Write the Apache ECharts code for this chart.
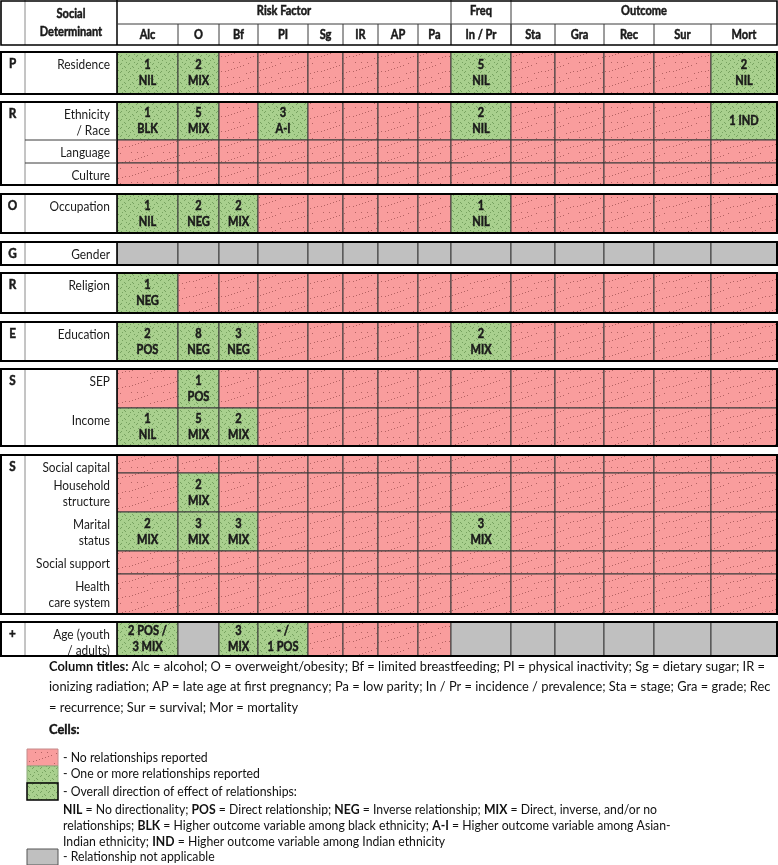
<!DOCTYPE html>
<html><head><meta charset="utf-8">
<script src="https://cdn.jsdelivr.net/npm/echarts@6/dist/echarts.min.js"></script>
<style>html,body{margin:0;padding:0;background:#fff}#c{width:778px;height:865px}</style>
</head><body><div id="c"></div>
<script>
// ---------------- DATA ----------------
const columnNames = ['Alc','O','Bf','PI','Sg','IR','AP','Pa','In / Pr','Sta','Gra','Rec','Sur','Mort'];
const columnGroupNames = ['Risk Factor','Freq','Outcome'];
const columnGroupSpans = [[0,7],[8,8],[9,13]];
const groupLetters = ['P','R','O','G','R','E','S','S','+'];
const groupSizes = [1,3,1,1,1,1,2,5,1];
const determinants = ['Residence','Ethnicity\n/ Race','Language','Culture','Occupation','Gender','Religion','Education','SEP','Income','Social capital','Household\nstructure','Marital\nstatus','Social support','Health\ncare system','Age (youth\n/ adults)'];
// R = no relationship reported, G = one or more relationships, X = not applicable
const cellStatus = [
  'GGRRRRRRGRRRRG',
  'GGRGRRRRGRRRRG',
  'RRRRRRRRRRRRRR',
  'RRRRRRRRRRRRRR',
  'GGGRRRRRGRRRRR',
  'XXXXXXXXXXXXXX',
  'GRRRRRRRRRRRRR',
  'GGGRRRRRGRRRRR',
  'RGRRRRRRRRRRRR',
  'GGGRRRRRRRRRRR',
  'RRRRRRRRRRRRRR',
  'RGRRRRRRRRRRRR',
  'GGGRRRRRGRRRRR',
  'RRRRRRRRRRRRRR',
  'RRRRRRRRRRRRRR',
  'GXGGRRRRXXXXXX'
];
// [row, column, label]
const cellLabels = [
  [0,0,'1\nNIL'],[0,1,'2\nMIX'],[0,8,'5\nNIL'],[0,13,'2\nNIL'],
  [1,0,'1\nBLK'],[1,1,'5\nMIX'],[1,3,'3\nA-I'],[1,8,'2\nNIL'],[1,13,'1 IND'],
  [4,0,'1\nNIL'],[4,1,'2\nNEG'],[4,2,'2\nMIX'],[4,8,'1\nNIL'],
  [6,0,'1\nNEG'],
  [7,0,'2\nPOS'],[7,1,'8\nNEG'],[7,2,'3\nNEG'],[7,8,'2\nMIX'],
  [8,1,'1\nPOS'],
  [9,0,'1\nNIL'],[9,1,'5\nMIX'],[9,2,'2\nMIX'],
  [11,1,'2\nMIX'],
  [12,0,'2\nMIX'],[12,1,'3\nMIX'],[12,2,'3\nMIX'],[12,8,'3\nMIX'],
  [15,0,'2 POS /\n3 MIX'],[15,2,'3\nMIX'],[15,3,'- /\n1 POS']
];
const footnoteLines = [
  [['Column titles:',true],[' Alc = alcohol; O = overweight/obesity; Bf = limited breastfeeding; PI = physical inactivity; Sg = dietary sugar; IR =',false]],
  [['ionizing radiation; AP = late age at first pregnancy; Pa = low parity; In / Pr = incidence / prevalence; Sta = stage; Gra = grade; Rec',false]],
  [['= recurrence; Sur = survival; Mor = mortality',false]]
];
const cellsTitle = 'Cells:';
const legendLines = [
  [['- No relationships reported',false]],
  [['- One or more relationships reported',false]],
  [['- Overall direction of effect of relationships:',false]],
  [['NIL',true],[' = No directionality; ',false],['POS',true],[' = Direct relationship; ',false],['NEG',true],[' = Inverse relationship; ',false],['MIX',true],[' = Direct, inverse, and/or no',false]],
  [['relationships; ',false],['BLK',true],[' = Higher outcome variable among black ethnicity; ',false],['A-I',true],[' = Higher outcome variable among Asian-',false]],
  [['Indian ethnicity; ',false],['IND',true],[' = Higher outcome variable among Indian ethnicity',false]],
  [['- Relationship not applicable',false]]
];
const legendBoxStatus = ['R','G','G','X'];

// ---------------- LAYOUT ----------------
const colEdges = [0,25,117,178,219,258,308,343,378,418,451,511,555,604,654,711,777];
const headerRowEdges = [0,24,45];
const rowTops =    [52,102,140,163,194,242,273,322,369,408,455,473,512,551,574,622];
const rowBottoms = [94,140,163,185,233,265,313,361,408,446,473,512,551,574,614,656];
const groupDividers = [false,true,false,false,false,false,false,false,false];
const FONT = 'Lato, "Open Sans", sans-serif';
const SX = 0.85;
const TXT = '#1a1a1a';

function makePattern(bg, dot, pts, w, h){
  const cv = document.createElement('canvas'); cv.width = w; cv.height = h;
  const g = cv.getContext('2d'); g.fillStyle = bg; g.fillRect(0,0,w,h);
  g.fillStyle = dot; pts.forEach(p => g.fillRect(p[0],p[1],1,1));
  return {image: cv, repeat: 'repeat'};
}
const fills = {
  R: makePattern('#F99D9D','rgba(110,40,40,0.5)',[[1,11],[4,10],[7,9],[10,8],[13,7],[16,6],[19,5],[3,2],[9,2],[15,2],[22,13],[26,12],[29,11],[24,3]],32,15),
  G: makePattern('#A9D08E','rgba(70,115,50,0.5)',[[0,0],[4,2],[2,4],[6,6],[1,7],[5,3]],8,8),
  X: '#C0C0C0'
};

function txt(x, y, text, o){
  o = o || {};
  const st = {text:text, fontFamily:FONT, fontSize:o.size||13,
    fontWeight:o.bold?'bold':'normal', fill:TXT, align:o.align||'center', verticalAlign:o.va||'middle', lineHeight:o.lh||16};
  if (o.bold) { st.stroke = TXT; st.lineWidth = 0.5; }
  return {type:'text', x:x, y:y, scaleX:o.sx || SX, z2:10, style:st};
}
function ln(x1,y1,x2,y2,c,w){ return {type:'line', z2:5, shape:{x1:x1,y1:y1,x2:x2,y2:y2}, style:{stroke:c, lineWidth:w}}; }

const labelMap = {};
cellLabels.forEach(l => { labelMap[l[0]+'_'+l[1]] = l[2]; });
const cellData = [];
cellStatus.forEach((row, r) => { row.split('').forEach((s, c) => cellData.push([c, r, s])); });
const groupStart = []; let acc = 0; groupSizes.forEach(n => { groupStart.push(acc); acc += n; });

function renderCell(params, api){
  const it = cellData[params.dataIndex];
  const c = it[0], r = it[1], s = it[2];
  const p0 = api.coord([colEdges[c+2], rowTops[r]]);
  const p1 = api.coord([colEdges[c+3], rowBottoms[r]]);
  const ch = [{type:'rect', shape:{x:p0[0], y:p0[1], width:p1[0]-p0[0], height:p1[1]-p0[1]},
    style:{fill:fills[s], stroke:'#3a3a3a', lineWidth:1}}];
  const lab = labelMap[r+'_'+c];
  if (lab) ch.push(txt((p0[0]+p1[0])/2, (p0[1]+p1[1])/2, lab, {bold:true, size:13}));
  return {type:'group', children:ch};
}

function renderGroup(params, api){
  const g = params.dataIndex;
  const first = groupStart[g], last = first + groupSizes[g] - 1;
  const tl = api.coord([colEdges[0], rowTops[first]]);
  const br = api.coord([colEdges[colEdges.length-1], rowBottoms[last]]);
  const xa = api.coord([colEdges[1], 0])[0], xb = api.coord([colEdges[2], 0])[0];
  const ch = [];
  ch.push({type:'rect', shape:{x:tl[0], y:tl[1], width:xb-tl[0], height:br[1]-tl[1]}, style:{fill:'#fff'}});
  ch.push(ln(xa, tl[1], xa, br[1], '#8a8a8a', 1));
  ch.push(ln(xb, tl[1], xb, br[1], '#000', 1.6));
  ch.push(txt((tl[0]+xa)/2, tl[1]+4, groupLetters[g], {bold:true, va:'top', sx:0.9}));
  for (let r = first; r <= last; r++){
    const y = api.coord([0, rowTops[r]])[1];
    if (groupDividers[g] && r > first) ch.push(ln(xa, y, xb, y, '#3a3a3a', 1));
    ch.push(txt(xb - 7, y + 4, determinants[r], {size:14, va:'top', align:'right'}));
  }
  ch.push({type:'rect', z2:20, shape:{x:tl[0]+1, y:tl[1], width:br[0]-tl[0]-1, height:br[1]-tl[1]}, style:{fill:'none', stroke:'#000', lineWidth:2}});
  return {type:'group', children:ch};
}

function renderHeader(params, api){
  const X = v => api.coord([v, 0])[0];
  const Y = v => api.coord([0, v])[1];
  const x0 = X(colEdges[0]), x1 = X(colEdges[colEdges.length-1]);
  const y0 = Y(headerRowEdges[0]), y1 = Y(headerRowEdges[1]), y2 = Y(headerRowEdges[2]);
  const ch = [];
  ch.push(ln(X(colEdges[1]), y0, X(colEdges[1]), y2, '#8a8a8a', 1));
  ch.push(ln(X(colEdges[2]), y0, X(colEdges[2]), y2, '#000', 1.5));
  ch.push(ln(X(colEdges[2]), y1, x1, y1, '#3a3a3a', 1));
  columnGroupSpans.forEach((sp, gi) => {
    const xa = X(colEdges[sp[0]+2]), xb = X(colEdges[sp[1]+3]);
    if (gi > 0) ch.push(ln(xa, y0, xa, y2, '#3a3a3a', 1));
    ch.push(txt((xa+xb)/2, (y0+y1)/2 - 1, columnGroupNames[gi], {bold:true}));
  });
  columnNames.forEach((n, i) => {
    const xa = X(colEdges[i+2]), xb = X(colEdges[i+3]);
    if (i > 0) ch.push(ln(xa, y1, xa, y2, '#3a3a3a', 1));
    ch.push(txt((xa+xb)/2, (y1+y2)/2, n, {bold:true}));
  });
  ch.push(txt((X(colEdges[1])+X(colEdges[2]))/2, (y0+y2)/2, 'Social\nDeterminant', {bold:true, lh:18}));
  ch.push({type:'rect', z2:20, shape:{x:x0+1, y:y0+1, width:x1-x0-1, height:y2-y0-1}, style:{fill:'none', stroke:'#000', lineWidth:1.6}});
  return {type:'group', children:ch};
}

// text measurement for narrow (Calibri-like) footnotes
const mctx = document.createElement('canvas').getContext('2d');
function measure(segs, size){
  let w = 0;
  segs.forEach(s => { mctx.font = (s[1]?'bold ':'') + size + 'px ' + FONT; w += mctx.measureText(s[0]).width; });
  return w;
}
function richStr(segs){ return segs.map(s => s[1] ? '{b|' + s[0] + '}' : s[0]).join(''); }
function richText(x, y, segs, size, sx){
  return {type:'text', x:x, y:y, scaleX:sx, style:{text:richStr(segs), fontFamily:FONT, fontSize:size, fill:'#111', verticalAlign:'middle',
    rich:{b:{fontWeight:'bold', fontFamily:FONT, fontSize:size, fill:'#111', textStroke:'#111', textStrokeWidth:0.4}}}};
}
const footSize = 13.5;
const footSX = 716 / measure(footnoteLines[0], footSize);
const legSize = 13;
const legSX = 594 / measure(legendLines[3], legSize);
const footY = [667, 687, 708];
const legY = [758, 774, 792, 810, 826, 842, 857];
const legX = [63, 63, 63, 63, 63, 63, 63];
const boxY = [[749,766],[766,783],[783,800],[849,865]];
const boxStroke = ['#c48a8a','#8aa878','#000','#555'];

const graphics = [];
footnoteLines.forEach((l, i) => graphics.push(richText(49, footY[i], l, footSize, footSX)));
graphics.push({type:'text', x:49, y:730, scaleX:footSX, style:{text:cellsTitle, fontFamily:FONT, fontSize:footSize, fontWeight:'bold', fill:'#111', verticalAlign:'middle', stroke:'#111', lineWidth:0.4}});
legendLines.forEach((l, i) => graphics.push(richText(legX[i], legY[i], l, legSize, legSX)));
legendBoxStatus.forEach((s, i) => graphics.push({type:'rect', shape:{x:27, y:boxY[i][0], width:31, height:boxY[i][1]-boxY[i][0]},
  style:{fill:fills[s], stroke:boxStroke[i], lineWidth: i===2 ? 1.5 : 1}}));

const chart = echarts.init(document.getElementById('c'), null, {renderer:'canvas'});
chart.setOption({
  animation:false,
  backgroundColor:'#fff',
  grid:{left:0, right:0, top:0, bottom:0},
  xAxis:{type:'value', min:0, max:778, show:false},
  yAxis:{type:'value', min:0, max:865, inverse:true, show:false},
  graphic: graphics,
  series:[
    {type:'custom', renderItem:renderHeader, data:[[0,0]], z:3, silent:true},
    {type:'custom', renderItem:renderCell, data:cellData.map(d => [d[0], d[1]]), z:2, silent:true},
    {type:'custom', renderItem:renderGroup, data:groupLetters.map((l,i) => [0, i]), z:3, silent:true}
  ]
});
</script>
</body></html>
